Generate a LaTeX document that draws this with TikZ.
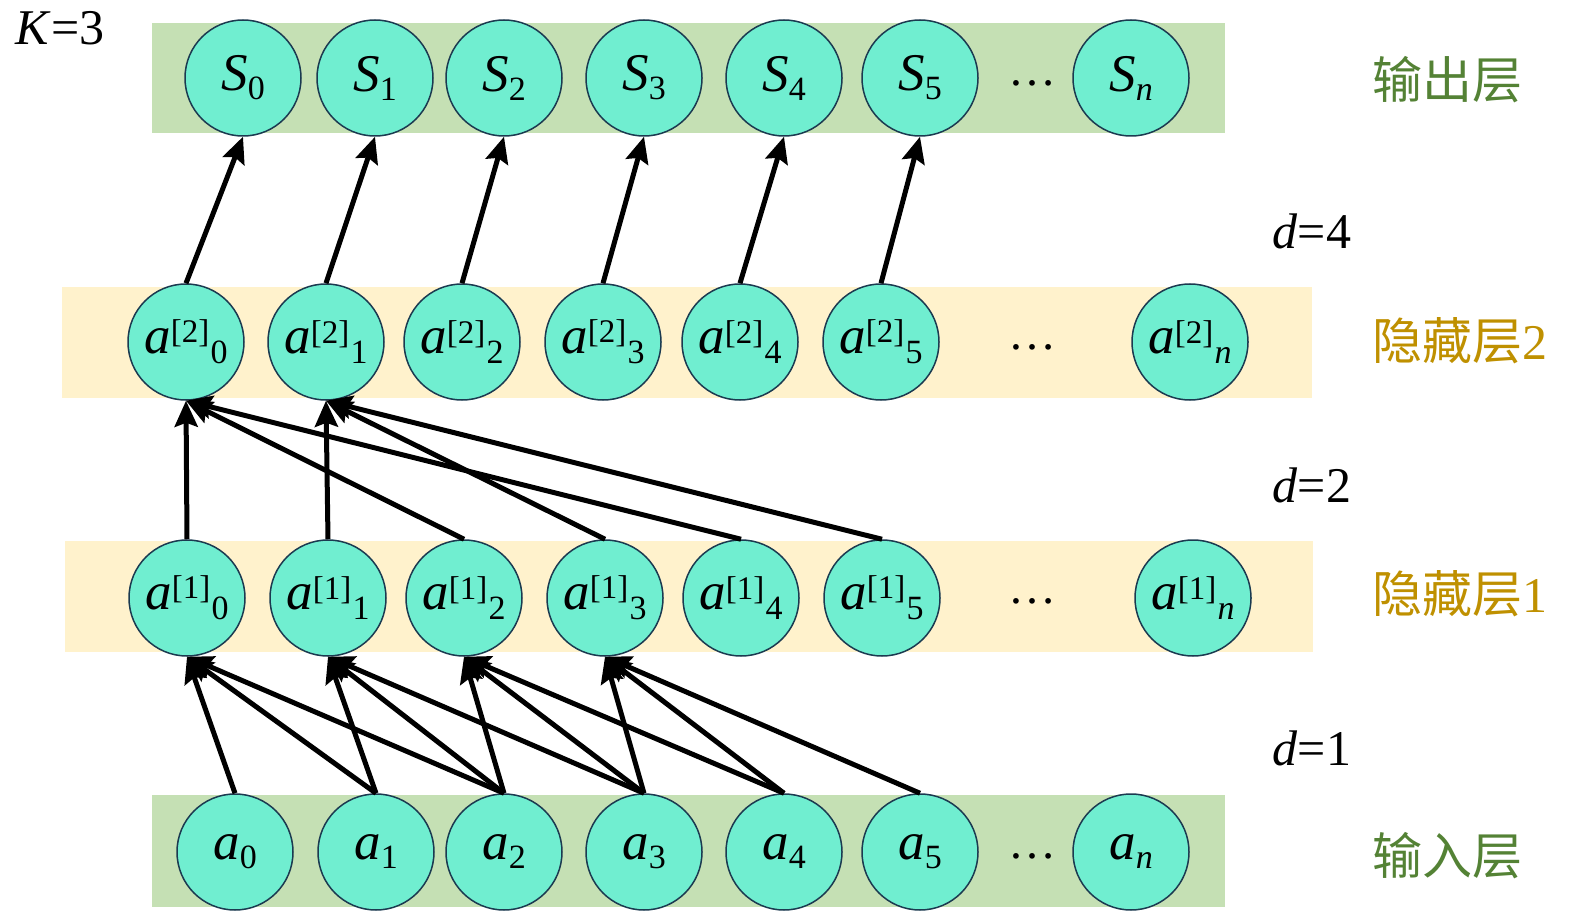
\documentclass[tikz,border=0pt]{standalone}
\usepackage{fontspec}
\setmainfont{Liberation Serif}
\newfontfamily\cjk{Noto Sans CJK SC}
\usetikzlibrary{arrows.meta}
\definecolor{nodefill}{HTML}{70EED0}
\definecolor{nodeline}{HTML}{1B3A50}
\definecolor{bandgreen}{HTML}{C5E0B4}
\definecolor{bandyellow}{HTML}{FFF2CC}
\definecolor{txtgreen}{HTML}{548235}
\definecolor{txtgold}{HTML}{BF9000}
\newcommand\lo[2]{\textit{#1}\raisebox{-0.17em}{\fontsize{34}{34}\selectfont #2}}
\newcommand\hid[2]{\textit{a}\raisebox{0.2em}{\fontsize{33}{33}\selectfont[#1]}\kern0.02em\raisebox{-0.19em}{\fontsize{34}{34}\selectfont #2}}
\begin{document}
\begin{tikzpicture}[x=1pt,y=-1pt,
  neuron/.style={circle, draw=nodeline, line width=1.5pt, fill=nodefill, minimum size=116pt, inner sep=0pt, font=\fontsize{53}{56}\selectfont},
  conn/.style={line width=5pt, -{Stealth[length=26pt,width=23pt,inset=4pt]}},
  dotsl/.style={font=\fontsize{48}{50}\selectfont},
  lbl/.style={font=\fontsize{50}{54}\selectfont},
  layer/.style={font=\fontsize{50}{54}\selectfont}]
\useasboundingbox (0,0) rectangle (1575,917);
% bands
\fill[bandgreen] (152,23) rectangle (1225,133);
\fill[bandyellow] (62,287) rectangle (1312,398);
\fill[bandyellow] (65,541) rectangle (1313,652);
\fill[bandgreen] (152,795) rectangle (1225,907);
% output layer
\node[neuron] (s0) at (243,78) {\lo{S}{0}};
\node[neuron] (s1) at (375,78) {\lo{S}{1}};
\node[neuron] (s2) at (504,78) {\lo{S}{2}};
\node[neuron] (s3) at (644,78) {\lo{S}{3}};
\node[neuron] (s4) at (784,78) {\lo{S}{4}};
\node[neuron] (s5) at (920,78) {\lo{S}{5}};
\node[neuron] (sn) at (1131,78) {\lo{S}{\textit{n}}};
\node[dotsl] (dots) at (1032,83) {\dots};
% hidden 2
\node[neuron] (h20) at (186,342) {\hid{2}{0}};
\node[neuron] (h21) at (326,342) {\hid{2}{1}};
\node[neuron] (h22) at (462,342) {\hid{2}{2}};
\node[neuron] (h23) at (603,342) {\hid{2}{3}};
\node[neuron] (h24) at (740,342) {\hid{2}{4}};
\node[neuron] (h25) at (881,342) {\hid{2}{5}};
\node[neuron] (h2n) at (1190,342) {\hid{2}{\textit{n}}};
\node[dotsl] (dots2) at (1032,347) {\dots};
% hidden 1
\node[neuron] (h10) at (187,598) {\hid{1}{0}};
\node[neuron] (h11) at (328,598) {\hid{1}{1}};
\node[neuron] (h12) at (464,598) {\hid{1}{2}};
\node[neuron] (h13) at (605,598) {\hid{1}{3}};
\node[neuron] (h14) at (741,598) {\hid{1}{4}};
\node[neuron] (h15) at (882,598) {\hid{1}{5}};
\node[neuron] (h1n) at (1193,598) {\hid{1}{\textit{n}}};
\node[dotsl] (dots1) at (1032,601) {\dots};
% input
\node[neuron] (a0) at (235,852) {\lo{a}{0}};
\node[neuron] (a1) at (376,852) {\lo{a}{1}};
\node[neuron] (a2) at (504,852) {\lo{a}{2}};
\node[neuron] (a3) at (644,852) {\lo{a}{3}};
\node[neuron] (a4) at (784,852) {\lo{a}{4}};
\node[neuron] (a5) at (920,852) {\lo{a}{5}};
\node[neuron] (an) at (1131,852) {\lo{a}{\textit{n}}};
\node[dotsl] (dots0) at (1032,856) {\dots};
% labels
\node[lbl] (k) at (60,28) {\textit{K}=3};
\node[lbl] (d4) at (1312,231) {\textit{d}=4};
\node[lbl] (d2) at (1312,485) {\textit{d}=2};
\node[lbl] (d1) at (1312,748) {\textit{d}=1};
\node[layer, text=txtgreen] (lout) at (1447,80) {{\cjk 输出层}};
\node[layer, text=txtgold] (lh2) at (1460,341) {{\cjk 隐藏层}2};
\node[layer, text=txtgold] (lh1) at (1460,594) {{\cjk 隐藏层}1};
\node[layer, text=txtgreen] (lin) at (1447,856) {{\cjk 输入层}};
% input -> hidden1 (d=1)
\foreach \j/\p/\q/\r in {0/0/1/2, 1/1/2/3, 2/2/3/4, 3/3/4/5} {
  \draw[conn] (a\p.north) -- (h1\j.south);
  \draw[conn] (a\q.north) -- (h1\j.south);
  \draw[conn] (a\r.north) -- (h1\j.south);
}
% hidden1 -> hidden2 (d=2)
\foreach \j/\p/\q/\r in {0/0/2/4, 1/1/3/5} {
  \draw[conn] (h1\p.north) -- (h2\j.south);
  \draw[conn] (h1\q.north) -- (h2\j.south);
  \draw[conn] (h1\r.north) -- (h2\j.south);
}
% hidden2 -> output (d=4)
\foreach \j in {0,...,5} {
  \draw[conn] (h2\j.north) -- (s\j.south);
}
\end{tikzpicture}
\end{document}
